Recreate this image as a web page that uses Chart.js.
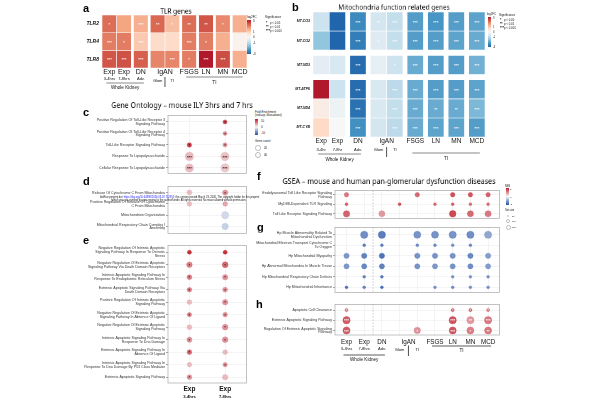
<!DOCTYPE html>
<html>
<head>
<meta charset="utf-8">
<script src="https://cdn.jsdelivr.net/npm/chart.js"></script>
<style>
  html, body { margin: 0; padding: 0; background: #fff; }
  #fig { position: relative; width: 600px; height: 400px; overflow: hidden; }
  #fig canvas { position: absolute; }
  .t { position: absolute; white-space: nowrap; line-height: 1; }
  .t.layer { will-change: transform; }
  .box { position: absolute; }
</style>
</head>
<body>
<div id="fig"></div>
<script>
// ---------- data ----------
const colTop = ['Exp', 'Exp', 'DN', 'IgAN', '', 'FSGS', 'LN', 'MN', 'MCD']
const colSub = ['3-4hrs', '7-8hrs', 'Adv.', 'Glom', 'TI', '', '', '', '']
const colSubB = ['3-4hr', '7-8hr', 'Adv.', 'Glom', 'TI', '', '', '', '']
const colGroup = ['Whole Kidney', 'Whole Kidney', 'Whole Kidney', '', '', 'TI', 'TI', 'TI', 'TI']
const colBlock = [0, 0, 1, 2, 2, 3, 4, 5, 6]

// a: TLR genes, log2FC
const tlrGenes = ['TLR2', 'TLR4', 'TLR8']
const tlrFC = [
  [2.1, 1.5, 1.35, 2.15, 1.15, 2.1, 2.35, 1.8, 1.35],
  [1.95, 1.95, 1.0, 0.7, 0.7, 1.95, 1.95, 1.35, 0.15],
  [2.35, 2.4, 2.25, 1.85, 1.85, 1.95, 3.0, 2.45, 1.35]
]
const tlrSig = [
  ['*', '', '***', '**', '*', '**', '**', '*', ''],
  ['***', '*', '***', '', '', '***', '*', '', ''],
  ['***', '***', '***', '', '***', '*', '***', '***', '']
]

// b: mitochondrial genes, log2FC
const mitoGenes = ['MT-CO3', 'MT-CO2', 'MT-ND3', 'MT-ATP6', 'MT-ND4', 'MT-CYB']
const mitoBlock = [0, 0, 1, 2, 2, 2]
const mitoFC = [
  [-0.8, -3.0, -2.4, -0.7, -0.9, -2.1, -2.2, -2.1, -2.0],
  [-1.5, -3.0, -2.6, -0.5, -0.9, -2.1, -2.1, -2.0, -1.9],
  [-0.4, -0.6, -2.9, -0.35, -0.8, -1.9, -2.1, -2.1, -1.8],
  [3.0, -0.8, -2.9, -0.6, -1.0, -1.9, -2.1, -2.1, -2.0],
  [0.3, -0.2, -2.8, -0.6, -0.9, -1.9, -1.9, -1.9, -1.7],
  [0.75, 0, -2.3, -0.7, -1.0, -1.9, -2.0, -2.0, -2.1]
]
const mitoSig = [
  ['', '', '***', '**', '***', '***', '***', '***', '***'],
  ['', '', '***', '*', '***', '***', '***', '***', '***'],
  ['', '', '***', '', '*', '***', '***', '***', '***'],
  ['', '', '***', '', '***', '***', '***', '***', '***'],
  ['', '', '***', '', '***', '***', '**', '**', '***'],
  ['', '', '***', '', '***', '***', '***', '***', '***']
]

// c, d, e: gene ontology, fold enrichment + gene count
const goTop = ['Exp', 'Exp']
const goSub = ['3-4hrs', '7-8hrs']
const goTlrTerms = [
  ['Positive Regulation Of Toll-Like Receptor 3', 'Signaling Pathway'],
  ['Positive Regulation Of Toll-Like Receptor 4', 'Signaling Pathway'],
  'Toll-Like Receptor Signaling Pathway',
  'Response To Lipopolysaccharide',
  'Cellular Response To Lipopolysaccharide'
]
const goTlrFE = [[null, 9], [null, 5], [9, 5], [3, 2.6], [3, 2.4]]
const goTlrCount = [[null, 3], [null, 3], [5, 4], [45, 48], [42, 45]]
const goTlrSig = [['', '*'], ['', '*'], ['*', '*'], ['***', '***'], ['***', '***']]

const goMitoTerms = [
  'Release Of Cytochrome C From Mitochondria',
  ['Positive Regulation Of Release Of Cytochrome', 'C From Mitochondria'],
  'Mitochondrion Organization',
  ['Mitochondrial Respiratory Chain Complex I', 'Assembly']
]
const goMitoFE = [[3, 5], [3, 4], [null, -2], [null, -2.5]]
const goMitoCount = [[8, 10], [6, 7], [null, 30], [null, 20]]
const goMitoSig = [['', '*'], ['', ''], ['', ''], ['', '']]

const goApopTerms = [
  ['Negative Regulation Of Intrinsic Apoptotic', 'Signaling Pathway In Response To Osmotic', 'Stress'],
  ['Negative Regulation Of Extrinsic Apoptotic', 'Signaling Pathway Via Death Domain Receptors'],
  ['Intrinsic Apoptotic Signaling Pathway In', 'Response To Endoplasmic Reticulum Stress'],
  ['Extrinsic Apoptotic Signaling Pathway Via', 'Death Domain Receptors'],
  ['Positive Regulation Of Intrinsic Apoptotic', 'Signaling Pathway'],
  ['Negative Regulation Of Extrinsic Apoptotic', 'Signaling Pathway In Absence Of Ligand'],
  ['Negative Regulation Of Extrinsic Apoptotic', 'Signaling Pathway'],
  ['Intrinsic Apoptotic Signaling Pathway In', 'Response To Dna Damage'],
  ['Extrinsic Apoptotic Signaling Pathway In', 'Absence Of Ligand'],
  ['Intrinsic Apoptotic Signaling Pathway In', 'Response To Dna Damage By P53 Class Mediator'],
  'Extrinsic Apoptotic Signaling Pathway'
]
const goApopFE = [[10, 10], [6, 7], [6, 5], [6, 5], [3, 5], [6, 5], [3, 5], [5, 5], [7, 3], [3, 5], [5, 3]]
const goApopCount = [[3, 3], [12, 15], [7, 10], [6, 8], [7, 11], [4, 6], [8, 13], [9, 13], [6, 7], [6, 5], [7, 12]]
const goApopSig = [['', ''], ['*', '*'], ['*', '*'], ['*', '*'], ['', '*'], ['*', '*'], ['', '*'], ['*', '*'], ['*', ''], ['', '*'], ['*', '']]

// f, g, h: GSEA, NES + set size
const gseaTlrTerms = [
  ['Endolysosomal Toll Like Receptor Signaling', 'Pathway'],
  'MyD88-Dependent TLR Signaling',
  'Toll Like Receptor Signaling Pathway'
]
const gseaTlrNES = [
  [1.9, null, null, null, 2.1, null, 2.5, 2.4, 2.2],
  [2.2, null, null, 2.4, null, 2.0, 2.2, 2.0, 2.0],
  [2.2, null, 1.4, null, null, null, 2.6, 2.1, 1.9]
]
const gseaTlrSize = [
  [45, null, null, null, 45, null, 45, 45, 45],
  [12, null, null, 12, null, 12, 12, 12, 12],
  [110, null, 100, null, null, null, 120, 100, 100]
]

const gseaMitoTerms = [
  ['Hp Muscle Abnormality Related To', 'Mitochondrial Dysfunction'],
  ['Mitochondrial Electron Transport Cytochrome C', 'To Oxygen'],
  'Hp Mitochondrial Myopathy',
  'Hp Abnormal Mitochondria In Muscle Tissue',
  'Hp Mitochondrial Respiratory Chain Defects',
  'Hp Mitochondrial Inheritance'
]
const gseaMitoNES = [
  [null, -2.1, -2.4, null, -2.0, -2.0, -2.0, -2.1, -1.6],
  [null, -2.3, -2.3, null, -2.1, -2.1, -2.0, -2.1, null],
  [-1.9, -2.3, -2.6, null, -2.0, -2.0, -2.0, -2.2, -1.8],
  [-1.9, -2.2, -2.3, null, -2.0, -1.9, -2.0, -2.1, -1.8],
  [null, -2.3, -2.5, null, null, null, -2.0, -2.0, -2.0],
  [-2.6, -2.3, -2.7, null, null, -2.0, -2.1, -2.0, -2.0]
]
const gseaMitoSize = [
  [null, 150, 150, null, 140, 140, 150, 150, 150],
  [null, 12, 12, null, 12, 12, 12, 12, null],
  [70, 70, 70, null, 70, 70, 70, 70, 70],
  [65, 65, 65, null, 65, 65, 65, 65, 65],
  [null, 12, 12, null, null, null, 12, 12, 12],
  [12, 12, 12, null, null, 12, 12, 12, 12]
]

const gseaApopTerms = [
  'Apoptotic Cell Clearance',
  'Extrinsic Apoptotic Signaling Pathway',
  ['Regulation Of Extrinsic Apoptotic Signaling', 'Pathway']
]
const gseaApopNES = [
  [2.2, null, null, null, null, null, 2.5, 2.4, 2.1],
  [2.3, null, null, null, null, null, 2.4, 1.4, 1.9],
  [2.3, null, null, null, 1.5, null, 2.4, 1.8, 1.9]
]
const gseaApopSize = [
  [15, null, null, null, null, null, 15, 15, 15],
  [150, null, null, null, null, null, 150, 150, 150],
  [140, null, null, null, 110, null, 140, 140, 140]
]
const gseaApopSig = [
  ['*', '', '', '', '', '', '*', '*', '*'],
  ['***', '', '', '', '', '', '***', '**', '***'],
  ['***', '', '', '', '*', '', '***', '*', '**']
]

// ---------- helpers ----------
const fig = document.getElementById('fig')
const FONT = '"Liberation Sans", Arial, sans-serif'
const TFONT = '"Noto Sans", "Liberation Sans", sans-serif'
Chart.defaults.font.family = FONT

const RDBU = [[33, 102, 172], [67, 147, 195], [146, 197, 222], [209, 229, 240], [247, 247, 247],
  [253, 219, 199], [244, 165, 130], [214, 96, 77], [178, 24, 43]]
const lerp = (a, b, t) => a.map((v, i) => Math.round(v + (b[i] - v) * t))

function heatColor(v, max) {
  const t = Math.max(-1, Math.min(1, v / max))
  const p = (t + 1) / 2 * (RDBU.length - 1)
  const i = Math.min(Math.floor(p), RDBU.length - 2)
  return `rgb(${lerp(RDBU[i], RDBU[i + 1], p - i)})`
}

const WHITE = [247, 247, 247], RED = [190, 25, 40], BLUE = [35, 80, 165]
function dotColor(v, max, a) {
  const t = Math.min(Math.abs(v) / max, 1)
  return `rgba(${lerp(WHITE, v > 0 ? RED : BLUE, t)},${a})`
}

function blockPos(blocks, gap) {
  let off = 0
  return blocks.map((b, i) => {
    if (i && b !== blocks[i - 1]) off += gap
    return i + off
  })
}

function makeCanvas(plot, m) {
  const c = document.createElement('canvas')
  const w = plot[2] - plot[0] + m.left + m.right
  const h = plot[3] - plot[1] + m.top + m.bottom
  c.width = w
  c.height = h
  c.style.cssText = `left:${plot[0] - m.left}px;top:${plot[1] - m.top}px;width:${w}px;height:${h}px`
  fig.appendChild(c)
  return c
}

function txt(str, x, y, size, o = {}) {
  const s = document.createElement('span')
  s.className = o.layer ? 't layer' : 't'
  if (o.html) s.innerHTML = str
  else s.textContent = str
  const fs = Math.max(size, 10), k = size / fs
  const ax = o.align === 'center' ? '-50%' : o.align === 'right' ? '-100%' : '0'
  s.style.cssText = `left:${x}px;top:${y}px;font-size:${fs}px;font-family:${o.font || FONT};` +
    `font-weight:${o.bold ? 700 : 400};color:${o.color || '#111'};transform-origin:0 0;` +
    `transform:scale(${k}) translate(${ax},-50%)`
  fig.appendChild(s)
}

function block(x, y, w, h, css) {
  const d = document.createElement('div')
  d.className = 'box'
  d.style.cssText = `left:${x}px;top:${y}px;width:${w}px;height:${h}px;` + css
  fig.appendChild(d)
}

// ---------- plugins ----------
const stars = {
  id: 'stars',
  afterDatasetsDraw(chart, args, o) {
    if (!o.color) return
    const { ctx } = chart
    ctx.save()
    ctx.font = `bold ${o.size}px ${FONT}`
    ctx.fillStyle = o.color
    ctx.textAlign = 'center'
    ctx.textBaseline = 'middle'
    chart.data.datasets.forEach((ds, di) => {
      if (!ds.sig) return
      chart.getDatasetMeta(di).data.forEach((el, i) => {
        const s = ds.sig[i]
        if (!s) return
        const y = el.base !== undefined ? (el.y + el.base) / 2 : el.y
        ctx.fillText(s, el.x, y + o.dy)
      })
    })
    ctx.restore()
  }
}

const frame = {
  id: 'frame',
  beforeDatasetsDraw(chart, args, o) {
    if (!o.color) return
    const { ctx, chartArea: a, scales: { x } } = chart
    ctx.save()
    if (o.dashAt !== undefined) {
      const px = x.getPixelForValue(o.dashAt)
      ctx.setLineDash([1.5, 1.5])
      ctx.strokeStyle = '#aaa'
      ctx.lineWidth = 0.6
      ctx.beginPath()
      ctx.moveTo(px, a.top)
      ctx.lineTo(px, a.bottom)
      ctx.stroke()
      ctx.setLineDash([])
    }
    ctx.strokeStyle = o.color
    ctx.lineWidth = 0.7
    ctx.strokeRect(a.left, a.top, a.right - a.left, a.bottom - a.top)
    ctx.restore()
  }
}

// column labels under a plot, with paired IgAN columns and group brackets
const colLabels = {
  id: 'colLabels',
  afterDraw(chart, args, o) {
    if (!o.top) return
    const { ctx, chartArea: { bottom }, scales: { x } } = chart
    const px = i => x.getPixelForValue(o.pos[i])
    const n = o.top.length
    ctx.save()
    ctx.fillStyle = '#111'
    ctx.strokeStyle = '#222'
    ctx.textAlign = 'center'
    ctx.textBaseline = 'middle'
    ctx.font = o.topFont
    for (let i = 0; i < n; i++) {
      if (!o.top[i]) continue
      if (o.top[i + 1] === '') {
        const mx = (px(i) + px(i + 1)) / 2
        ctx.fillText(o.top[i], mx, bottom + o.dyTop)
        ctx.lineWidth = 0.8
        ctx.beginPath()
        ctx.moveTo(mx, bottom + o.barTop)
        ctx.lineTo(mx, bottom + o.barBot)
        ctx.stroke()
      } else {
        ctx.fillText(o.top[i], px(i), bottom + o.dyTop)
      }
    }
    ctx.font = o.subFont
    o.sub.forEach((s, i) => {
      if (!s) return
      const paired = o.top[i] === '' || o.top[i + 1] === ''
      ctx.fillText(s, px(i), bottom + (paired ? o.dyPair : o.dySub))
    })
    if (o.group) {
      ctx.font = o.groupFont
      ctx.strokeStyle = o.groupColor
      ctx.lineWidth = o.groupWidth
      for (let i = 0; i < n;) {
        let j = i
        while (j + 1 < n && o.group[j + 1] === o.group[i]) j++
        const g = o.group[i]
        if (g) {
          const dy = o.groupDy[g]
          ctx.beginPath()
          ctx.moveTo(px(i) - 3, bottom + dy[0])
          ctx.lineTo(px(j) + 3, bottom + dy[0])
          ctx.stroke()
          ctx.fillText(g, (px(i) + px(j)) / 2, bottom + dy[1])
        }
        i = j + 1
      }
    }
    ctx.restore()
  }
}

Chart.register(stars, frame, colLabels)

// ---------- chart builders ----------
function heatChart(plot, m, o) {
  const xs = blockPos(colBlock, o.colGap)
  const ys = blockPos(o.rowBlock, o.rowGap)
  return new Chart(makeCanvas(plot, m), {
    type: 'bar',
    data: {
      datasets: o.rows.map((r, ri) => ({
        label: r,
        data: xs.map(x => ({ x, y: [ys[ri] - 0.5, ys[ri] + 0.5] })),
        backgroundColor: o.values[ri].map(v => heatColor(v, o.max)),
        borderColor: 'rgba(255,255,255,0.75)',
        borderWidth: 0.6,
        borderSkipped: false,
        grouped: false,
        barPercentage: 1,
        categoryPercentage: 1,
        sig: o.sig[ri]
      }))
    },
    options: {
      responsive: false,
      animation: false,
      events: [],
      layout: { padding: { top: m.top, right: m.right, left: 0, bottom: 0 } },
      plugins: {
        legend: { display: false },
        tooltip: { enabled: false },
        stars: { color: 'rgba(255,255,255,0.9)', size: 4.2, dy: 1 },
        colLabels: Object.assign({ pos: xs, top: colTop, group: colGroup, groupColor: '#8a8a8a', groupWidth: 1.1,
          groupFont: `4.6px ${FONT}` }, o.labels)
      },
      scales: {
        x: {
          type: 'linear', offset: false, min: xs[0] - 0.5, max: xs[xs.length - 1] + 0.5,
          afterBuildTicks: s => { s.ticks = xs.map(value => ({ value })) },
          ticks: { display: false },
          grid: { display: false, drawTicks: false }, border: { display: false },
          afterFit: s => { s.height = m.bottom; s.paddingLeft = s.paddingRight = 0 }
        },
        y: {
          type: 'linear', reverse: true, min: ys[0] - 0.5, max: ys[ys.length - 1] + 0.5,
          afterBuildTicks: s => { s.ticks = ys.map(value => ({ value })) },
          ticks: { callback: v => o.rows[ys.indexOf(v)], autoSkip: false, color: '#111', padding: 3,
            font: { size: o.rowFont, style: 'italic', weight: 'bold' } },
          grid: { display: false, drawTicks: false }, border: { display: false },
          afterFit: s => { s.width = m.left; s.paddingTop = s.paddingBottom = 0 }
        }
      }
    }
  })
}

function dotChart(plot, m, o) {
  const pts = []
  o.values.forEach((row, ri) => row.forEach((v, ci) => {
    if (v !== null) pts.push({ x: ci, y: ri, v, n: o.counts[ri][ci], s: o.sig ? o.sig[ri][ci] : '' })
  }))
  const nC = o.values[0].length, nR = o.rows.length
  const cols = [...Array(nC).keys()], rows = [...Array(nR).keys()]
  return new Chart(makeCanvas(plot, m), {
    type: 'bubble',
    data: {
      datasets: [{
        data: pts,
        sig: pts.map(p => p.s),
        clip: false,
        backgroundColor: c => c.raw ? dotColor(c.raw.v, o.max, 0.9) : 'transparent',
        borderColor: c => c.raw ? dotColor(c.raw.v * 1.2, o.max, 0.9) : 'transparent',
        borderWidth: 0.4,
        radius: c => c.raw ? o.size[0] + o.size[1] * Math.sqrt(c.raw.n) : 0
      }]
    },
    options: {
      responsive: false,
      animation: false,
      events: [],
      layout: { padding: { top: m.top, right: m.right, left: 0, bottom: 0 } },
      plugins: {
        legend: { display: false },
        tooltip: { enabled: false },
        stars: { color: o.starColor, size: 4.2, dy: 1 },
        frame: { color: '#a8a8a8', dashAt: o.dashAt },
        colLabels: o.labels ? Object.assign({ pos: cols }, o.labels) : {}
      },
      scales: {
        x: {
          type: 'linear', offset: false, min: -o.xPad, max: nC - 1 + o.xPad,
          afterBuildTicks: s => { s.ticks = cols.map(value => ({ value })) },
          ticks: { display: false },
          grid: { color: '#ececec', lineWidth: 0.6, drawTicks: false }, border: { display: false },
          afterFit: s => { s.height = m.bottom; s.paddingLeft = s.paddingRight = 0 }
        },
        y: {
          type: 'linear', reverse: true, min: -o.yPad[0], max: nR - 1 + o.yPad[1],
          afterBuildTicks: s => { s.ticks = rows.map(value => ({ value })) },
          ticks: { callback: v => o.rows[v], autoSkip: false, color: '#333', padding: 1,
            font: { size: 3.6, lineHeight: 1.05 } },
          grid: { color: '#ececec', lineWidth: 0.6, tickLength: 2, tickColor: '#444', tickWidth: 0.5 },
          border: { display: false },
          afterFit: s => { s.width = m.left; s.paddingTop = s.paddingBottom = 0 }
        }
      }
    }
  })
}

// ---------- panels ----------
heatChart([102, 15, 247, 68], { left: 20, top: 2, right: 1, bottom: 24 }, {
  rows: tlrGenes, values: tlrFC, sig: tlrSig, max: 3, rowBlock: [0, 0, 0], colGap: 0.15, rowGap: 0, rowFont: 5,
  labels: { sub: colSub, topFont: `7px ${FONT}`, subFont: `4px ${FONT}`, dyTop: 4.5, dySub: 11, dyPair: 13,
    barTop: 9, barBot: 19, groupDy: { 'Whole Kidney': [15, 20], 'TI': [9, 15] } }
})

heatChart([313, 12, 485, 137], { left: 19, top: 2, right: 1, bottom: 28 }, {
  rows: mitoGenes, values: mitoFC, sig: mitoSig, max: 3, rowBlock: mitoBlock, colGap: 0.26, rowGap: 0.28, rowFont: 3.5,
  labels: { sub: colSubB, topFont: `6.5px ${FONT}`, subFont: `4px ${FONT}`, dyTop: 4.7, dySub: 13, dyPair: 13,
    barTop: 10, barBot: 20, groupDy: { 'Whole Kidney': [17, 23], 'TI': [16, 22] } }
})

dotChart([168, 113, 249, 177], { left: 86, top: 2, right: 2, bottom: 1 }, {
  rows: goTlrTerms, values: goTlrFE, counts: goTlrCount, sig: goTlrSig, max: 10,
  size: [1.3, 0.42], xPad: 0.6, yPad: [0.55, 0.47], starColor: '#3a1414'
})

dotChart([168, 184, 249, 237], { left: 86, top: 2, right: 2, bottom: 1 }, {
  rows: goMitoTerms, values: goMitoFE, counts: goMitoCount, sig: goMitoSig, max: 10,
  size: [1.3, 0.42], xPad: 0.6, yPad: [0.55, 0.63], starColor: '#3a1414'
})

dotChart([168, 243, 249, 383], { left: 86, top: 2, right: 2, bottom: 16 }, {
  rows: goApopTerms, values: goApopFE, counts: goApopCount, sig: goApopSig, max: 10,
  size: [1.3, 0.42], xPad: 0.6, yPad: [0.55, 0.47], starColor: '#3a1414',
  labels: { top: goTop, sub: goSub, topFont: `600 6.5px ${FONT}`, subFont: `600 4.2px ${FONT}`, dyTop: 6.5, dySub: 13.5 }
})

dotChart([335, 188, 502, 222], { left: 85, top: 2, right: 2, bottom: 1 }, {
  rows: gseaTlrTerms, values: gseaTlrNES, counts: gseaTlrSize, max: 3,
  size: [0.55, 0.25], xPad: 0.65, yPad: [0.45, 0.5], dashAt: 1.5
})

dotChart([335, 225, 502, 296], { left: 85, top: 2, right: 2, bottom: 1 }, {
  rows: gseaMitoTerms, values: gseaMitoNES, counts: gseaMitoSize, max: 3,
  size: [0.55, 0.25], xPad: 0.65, yPad: [0.7, 0.5], dashAt: 1.5
})

dotChart([335, 302, 502, 335], { left: 85, top: 2, right: 2, bottom: 30 }, {
  rows: gseaApopTerms, values: gseaApopNES, counts: gseaApopSize, sig: gseaApopSig, max: 3,
  size: [0.55, 0.25], xPad: 0.65, yPad: [0.55, 0.45], dashAt: 1.5, starColor: 'rgba(255,255,255,0.9)',
  labels: { top: colTop, sub: colSub, group: colGroup, topFont: `6.3px ${FONT}`, subFont: `4px ${FONT}`,
    dyTop: 7, dySub: 14, dyPair: 15, barTop: 10.5, barBot: 21, groupColor: '#333', groupWidth: 0.8,
    groupFont: `4.6px ${FONT}`, groupDy: { 'Whole Kidney': [20, 25], 'TI': [11, 16] } }
})

// ---------- titles, panel letters ----------
const title = { align: 'center', font: TFONT, color: '#000', layer: true }
txt('TLR genes', 176, 10.5, 6.5, title)
txt('Mitochondria function related genes', 394, 7, 6.5, title)
txt('Gene Ontology – mouse ILY 3hrs and 7 hrs', 181.5, 105, 7.1, title)
txt('GSEA – mouse and human pan-glomerular dysfunction diseases', 389, 180.5, 7.1, title)

const letters = [['a', 83, 7.5], ['b', 292, 6.5], ['c', 83, 111.5], ['d', 83, 181], ['e', 83, 240],
  ['f', 257, 176], ['g', 257, 227], ['h', 256, 303.5]]
letters.forEach(([l, x, y]) => txt(l, x, y, 11, { bold: true, color: '#000', layer: true }))

// ---------- legends ----------
const rdbuGrad = 'linear-gradient(to bottom,' + RDBU.slice().reverse().map(c => `rgb(${c})`).join(',') + ')'
const dotGrad = `linear-gradient(to bottom,rgb(${RED}),rgb(${WHITE}),rgb(${BLUE}))`

function sigLegend(x, y, step) {
  txt('Significance', x, y, 3)
  ;[['*', 'p < 0.05'], ['**', 'p < 0.01'], ['***', 'p < 0.001']].forEach(([s, p], i) => {
    txt(s, x + 1, y + step * (i + 1.5), 3.4, { bold: true })
    txt(p, x + 4.5, y + step * (i + 1.5), 2.8)
  })
}

// a
txt('log2FC', 247, 17, 3)
block(247, 20, 4, 34, `background:${rdbuGrad}`)
;[['3', 20.5], ['1', 31.5], ['0', 37], ['-1', 42.5], ['-3', 53.5]].forEach(([s, y]) => txt(s, 253, y, 2.8))
sigLegend(265, 17, 4)

// b
txt('log2FC', 487, 14, 2.8)
block(487.5, 17, 3.5, 30, `background:${rdbuGrad}`)
;[['3', 17.5], ['1', 27], ['0', 32], ['-1', 37], ['-3', 46.5]].forEach(([s, y]) => txt(s, 492.5, y, 2.6))
sigLegend(499, 14.5, 3.8)

// c
txt('Fold Enrichment', 255, 112, 2.9)
txt('(red=up, blue=down)', 255, 114.8, 2.9)
block(255, 119, 3, 16, `background:${dotGrad}`)
;[['10', 121], ['0', 127], ['-10', 133]].forEach(([s, y]) => txt(s, 261, y, 2.8))
txt('Gene count', 255, 141, 3)
block(255.3, 145.3, 5.4, 5.4, 'border:0.5px solid #bbb;border-radius:50%;box-sizing:border-box')
block(254.7, 151.7, 6.6, 6.6, 'border:0.5px solid #bbb;border-radius:50%;box-sizing:border-box')
txt('20', 264, 148, 2.8)
txt('40', 264, 155, 2.8)

// f
txt('NES', 505, 186, 2.6)
block(506, 188, 2.5, 17, `background:${dotGrad}`)
;[['3', 189], ['0', 196.5], ['-3', 204]].forEach(([s, y]) => txt(s, 510, y, 2.4))
txt('Set size', 505, 210, 2.6)
;[[216, 1.4], [221, 1.9], [227, 2.5]].forEach(([y, r]) => {
  block(508 - r, y - r, 2 * r, 2 * r, 'border:0.4px solid #bbb;border-radius:50%;box-sizing:border-box')
})
txt('50', 512, 216, 2.3)
txt('100', 512, 221, 2.3)
txt('150', 512, 227, 2.3)

// preprint notice
txt('bioRxiv preprint doi: <span style="color:#1a1aff">https://doi.org/10.64898/2026.03.18.712955</span>; this version posted March 23, 2026. The copyright holder for this preprint',
  100, 196.5, 2.6, { html: true })
txt('(which was not certified by peer review) is the author/funder. All rights reserved. No reuse allowed without permission.',
  111, 200, 2.6)
</script>
</body>
</html>
